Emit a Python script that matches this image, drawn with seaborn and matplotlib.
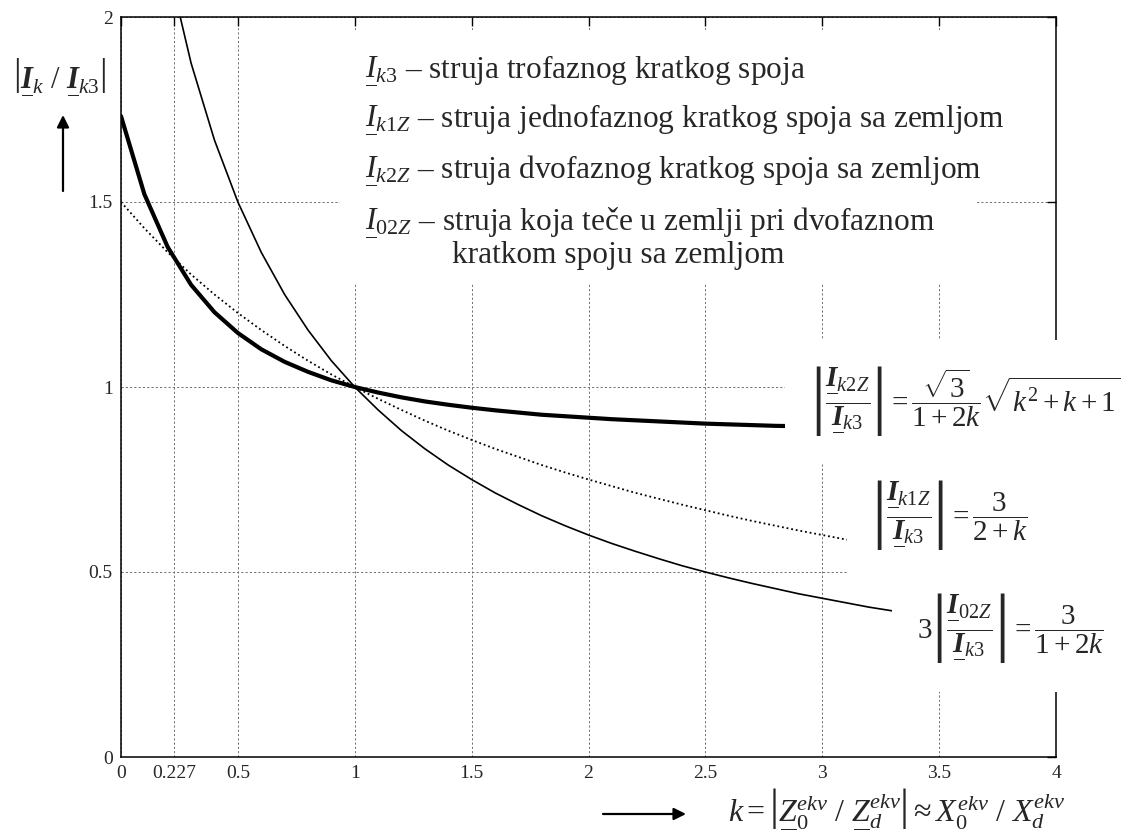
import matplotlib
matplotlib.use("Agg")
import matplotlib.pyplot as plt
import pandas as pd
import seaborn as sns
from matplotlib.patches import Rectangle

# ---- data: current ratios versus k = |Z0/Zd| ----
k = [0.0, 0.1, 0.2, 0.3, 0.4, 0.5, 0.6, 0.7, 0.8, 0.9,
     1.0, 1.1, 1.2, 1.3, 1.4, 1.5, 1.6, 1.7, 1.8, 1.9,
     2.0, 2.1, 2.2, 2.3, 2.4, 2.5, 2.6, 2.7, 2.8, 2.9,
     3.0, 3.1, 3.2, 3.3, 3.4, 3.5, 3.6, 3.7, 3.8, 3.9, 4.0]

# |Ik2Z / Ik3|  (two-phase fault to earth)
i_k2z = [1.732, 1.521, 1.378, 1.276, 1.202, 1.146, 1.102, 1.068, 1.041, 1.018,
         1.000, 0.985, 0.972, 0.961, 0.952, 0.944, 0.937, 0.931, 0.925, 0.921,
         0.917, 0.913, 0.910, 0.907, 0.904, 0.901, 0.899, 0.897, 0.895, 0.894,
         0.892, 0.891, 0.889, 0.888, 0.887, 0.886, 0.885, 0.884, 0.883, 0.883, 0.882]

# |Ik1Z / Ik3|  (single-phase fault to earth)
i_k1z = [1.500, 1.429, 1.364, 1.304, 1.250, 1.200, 1.154, 1.111, 1.071, 1.034,
         1.000, 0.968, 0.938, 0.909, 0.882, 0.857, 0.833, 0.811, 0.789, 0.769,
         0.750, 0.732, 0.714, 0.698, 0.682, 0.667, 0.652, 0.638, 0.625, 0.612,
         0.600, 0.588, 0.577, 0.566, 0.556, 0.545, 0.536, 0.526, 0.517, 0.508, 0.500]

# 3|I02Z / Ik3|  (earth current, two-phase fault to earth)
i_02z = [3.000, 2.500, 2.143, 1.875, 1.667, 1.500, 1.364, 1.250, 1.154, 1.071,
         1.000, 0.938, 0.882, 0.833, 0.789, 0.750, 0.714, 0.682, 0.652, 0.625,
         0.600, 0.577, 0.556, 0.536, 0.517, 0.500, 0.484, 0.469, 0.455, 0.441,
         0.429, 0.417, 0.405, 0.395, 0.385, 0.375, 0.366, 0.357, 0.349, 0.341, 0.333]

x_ticks = [0, 0.227, 0.5, 1, 1.5, 2, 2.5, 3, 3.5, 4]
x_tick_labels = ["0", "0.227", "0.5", "1", "1.5", "2", "2.5", "3", "3.5", "4"]
y_ticks = [0, 0.5, 1, 1.5, 2]
y_tick_labels = ["0", "0.5", "1", "1.5", "2"]

df = pd.DataFrame({"k": k, "k2z": i_k2z, "k1z": i_k1z, "02z": i_02z})

# ---- style ----
sns.set_theme(style="white")
plt.rcParams.update({
    "font.family": ["Liberation Serif", "DejaVu Serif"],
    "mathtext.fontset": "custom",
    "mathtext.rm": "Liberation Serif",
    "mathtext.it": "Liberation Serif:italic",
    "mathtext.bf": "Liberation Serif:bold:italic",
    "mathtext.sf": "Liberation Serif",
    "axes.edgecolor": "black",
    "axes.linewidth": 1.1,
    "xtick.direction": "in",
    "ytick.direction": "in",
})


def ul(base, width=0.6):
    """Phasor notation: symbol with a bar underneath."""
    return r"\underset{\overline{\hspace{%s}}}{%s}" % (width, base)


W, H = 1144, 833
fig = plt.figure(figsize=(W / 100, H / 100), dpi=100)
ax = fig.add_axes([121 / W, 1 - 757 / H, (1056 - 121) / W, (757 - 17) / H])


def fx(x):
    return x / W


def fy(y):
    return 1 - y / H


sns.lineplot(data=df, x="k", y="k2z", ax=ax, color="black", lw=3.0)
sns.lineplot(data=df, x="k", y="k1z", ax=ax, color="black", lw=1.3,
             linestyle=(0, (1, 1.6)))
sns.lineplot(data=df, x="k", y="02z", ax=ax, color="black", lw=1.2)

ax.set_xlim(0, 4)
ax.set_ylim(0, 2)
ax.set_xticks(x_ticks)
ax.set_xticklabels(x_tick_labels)
ax.set_yticks(y_ticks)
ax.set_yticklabels(y_tick_labels)
ax.set_xlabel("")
ax.set_ylabel("")
ax.tick_params(axis="both", which="both", direction="in", length=6.5, width=1.0,
               top=True, right=True, labelsize=14, color="black")
ax.tick_params(axis="x", pad=6)
ax.tick_params(axis="y", pad=6)
ax.grid(True, color="#6f6f6f", linestyle=(0, (2.2, 2.2)), linewidth=0.7)
for sp in ax.spines.values():
    sp.set_visible(True)
    sp.set_color("black")
    sp.set_linewidth(1.1)

# white panels behind the annotation blocks
for (x0, y0, x1, y1) in [(340, 30, 977, 284), (785, 340, 1144, 463),
                         (847, 463, 1144, 590), (892, 590, 1144, 692)]:
    fig.add_artist(Rectangle((fx(x0), fy(y1)), fx(x1 - x0), (y1 - y0) / H,
                             transform=fig.transFigure, facecolor="white",
                             edgecolor="none", zorder=2))

I = ul(r"\mathit{I}")
IB = ul(r"\mathbf{I}")

# legend block
legend_fs = 22.6
legend_rows = [
    (365, 75, r"$%s{}_{k3}$ – struja trofaznog kratkog spoja" % I),
    (365, 124, r"$%s{}_{k1Z}$ – struja jednofaznog kratkog spoja sa zemljom" % I),
    (365, 175, r"$%s{}_{k2Z}$ – struja dvofaznog kratkog spoja sa zemljom" % I),
    (365, 227, r"$%s{}_{02Z}$ – struja koja teče u zemlji pri dvofaznom" % I),
    (452, 263, "kratkom spoju sa zemljom"),
]
for x0, y0, s in legend_rows:
    fig.text(fx(x0), fy(y0), s, fontsize=legend_fs, va="baseline", ha="left",
             zorder=3)

# formulas next to the curves
form_fs = 21
fig.text(fx(810), fy(401),
         r"$\left|\dfrac{%s{}_{k2Z}}{%s{}_{k3}}\right| = \dfrac{\sqrt{3}}{1+2k}\sqrt{k^2+k+1}$" % (IB, IB),
         fontsize=form_fs, va="center", ha="left", zorder=3)
fig.text(fx(871), fy(515),
         r"$\left|\dfrac{%s{}_{k1Z}}{%s{}_{k3}}\right| = \dfrac{3}{2+k}$" % (IB, IB),
         fontsize=form_fs, va="center", ha="left", zorder=3)
fig.text(fx(917), fy(628),
         r"$3\left|\dfrac{%s{}_{02Z}}{%s{}_{k3}}\right| = \dfrac{3}{1+2k}$" % (IB, IB),
         fontsize=form_fs, va="center", ha="left", zorder=3)

# axis captions with arrows
fig.text(fx(60), fy(77), r"$\left|%s{}_k\ /\ %s{}_{k3}\right|$" % (IB, IB),
         fontsize=22, va="center", ha="center", zorder=3)
fig.add_artist(plt.Annotation("", xy=(fx(63), fy(115)), xytext=(fx(63), fy(191)),
                              xycoords="figure fraction", textcoords="figure fraction",
                              arrowprops=dict(arrowstyle="-|>", color="black", lw=1.6,
                                              mutation_scale=18, shrinkA=0, shrinkB=0)))
Z = ul(r"\mathit{Z}", 0.9)
fig.text(fx(728), fy(819),
         r"$k = \left|%s{}_0^{ekv}\ /\ %s{}_d^{ekv}\right| \approx X_0^{ekv}\ /\ X_d^{ekv}$" % (Z, Z),
         fontsize=23, va="baseline", ha="left", zorder=3)
fig.add_artist(plt.Annotation("", xy=(fx(686), fy(814)), xytext=(fx(603), fy(814)),
                              xycoords="figure fraction", textcoords="figure fraction",
                              arrowprops=dict(arrowstyle="-|>", color="black", lw=1.6,
                                              mutation_scale=18, shrinkA=0, shrinkB=0)))

fig.savefig("out.png", dpi=100, facecolor="white")
